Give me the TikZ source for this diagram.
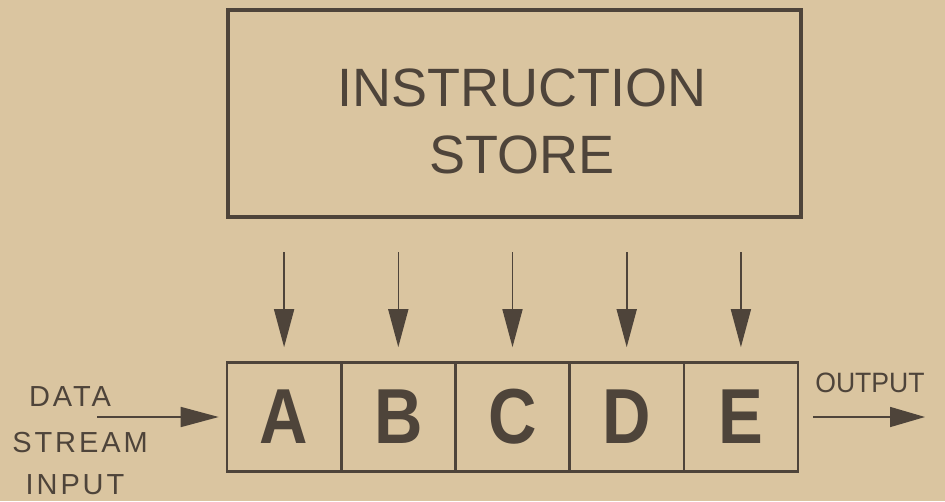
\documentclass[tikz,border=0pt]{standalone}
\usepackage{fontspec}
\setmainfont{Liberation Sans}
\newfontfamily\spaced[LetterSpace=10]{Liberation Sans}
\usetikzlibrary{arrows.meta}
\definecolor{paper}{RGB}{218,197,160}
\definecolor{ink}{RGB}{78,68,58}
\newcommand{\cellletter}[1]{\scalebox{0.86}[1]{#1}}
\begin{document}
\begin{tikzpicture}[x=1pt,y=-1pt,
  cell/.style={draw=ink,line width=2.6pt,minimum width=114.2pt,minimum height=109pt,inner sep=0pt,
     font=\fontsize{78}{78}\selectfont\bfseries,text=ink},
  lbl/.style={text=ink,font=\spaced\fontsize{29}{29}\selectfont,inner sep=0pt},
  feed/.style={draw=ink,line width=1.6pt,-{Triangle[length=38pt,width=20pt]}}]
\fill[paper] (0,0) rectangle (945,501);
\useasboundingbox (0,0) rectangle (945,501);
% instruction store
\node[draw=ink,line width=3.5pt,minimum width=573pt,minimum height=207pt,inner sep=0pt] (store) at (514.5,113.5) {};
\node[text=ink,font=\fontsize{54}{67}\selectfont,align=center,inner sep=0pt] (storetxt) at (522,121) {INSTRUCTION\\STORE};
% pipeline cells
\node[cell] (A) at (284.1,417) {\cellletter{A}};
\node[cell] (B) at (398.3,417) {\cellletter{B}};
\node[cell] (C) at (512.5,417) {\cellletter{C}};
\node[cell] (D) at (626.7,417) {\cellletter{D}};
\node[cell] (E) at (740.9,417) {\cellletter{E}};
% feed arrows
\coordinate (tA) at (284.1,252);
\coordinate (tB) at (398.3,252);
\coordinate (tC) at (512.5,252);
\coordinate (tD) at (626.7,252);
\coordinate (tE) at (740.9,252);
\foreach \n in {A,B,C,D,E}{
  \draw[feed,shorten >=14pt] (t\n) -- (\n.north);
}
% input
\coordinate (inS) at (97,417);
\draw[feed,shorten >=7pt] (inS) -- (A.west);
\node[lbl] (data) at (70,397) {DATA};
\node[lbl] (stream) at (80,443) {STREAM};
\node[lbl] (input) at (75,485) {INPUT};
% output
\coordinate (outE) at (925,417);
\draw[feed,shorten <=14pt,-{Triangle[length=35pt,width=20pt]}] (E.east) -- (outE);
\node[text=ink,inner sep=0pt,font=\fontsize{28}{28}\selectfont] (output) at (870,383) {\scalebox{0.95}[1]{OUTPUT}};
\end{tikzpicture}
\end{document}
